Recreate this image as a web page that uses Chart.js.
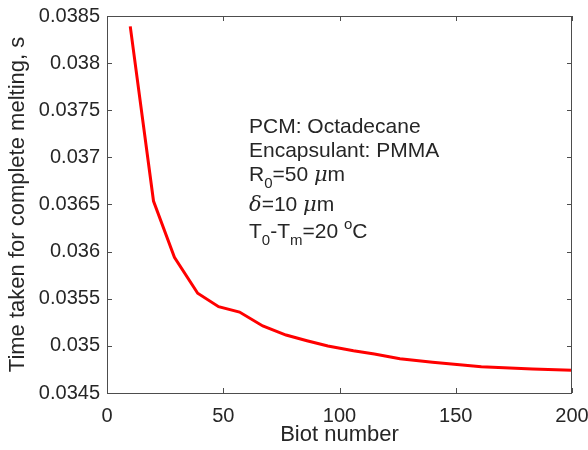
<!DOCTYPE html>
<html>
<head>
<meta charset="utf-8">
<script src="https://cdn.jsdelivr.net/npm/chart.js@4.4.1/dist/chart.umd.min.js"></script>
<style>
  html, body { margin: 0; padding: 0; background: #fff; }
  #wrap { width: 588px; height: 450px; }
</style>
</head>
<body>
<div id="wrap"><canvas id="chart" width="588" height="450"></canvas></div>
<script>
// Biot number vs melting time
const biot = [10, 20, 29, 39, 48, 57, 67, 77, 86, 95, 106, 115, 126, 140, 161, 183, 200];
const meltTime = [0.03839, 0.036537, 0.03594, 0.035558, 0.035416, 0.035359, 0.035211,
                  0.035115, 0.035055, 0.034999, 0.034949, 0.034914, 0.034864, 0.034826,
                  0.034779, 0.034755, 0.034741];

const xTicks = [0, 50, 100, 150, 200];
const yMin = 0.0345, yMax = 0.0385, yStep = 0.0005;

const txtColor = '#262626';
const fontFam = '"Liberation Sans", Arial, sans-serif';

// annotation lines: each part is [text, style]
const noteLines = [
  [['PCM: Octadecane', 'n']],
  [['Encapsulant: PMMA', 'n']],
  [['R', 'n'], ['0', 'sub'], ['=50 ', 'n'], ['\u03bc', 'it'], ['m', 'n']],
  [['\u03b4', 'it'], ['=10 ', 'n'], ['\u03bc', 'it'], ['m', 'n']],
  [['T', 'n'], ['0', 'sub'], ['-T', 'n'], ['m', 'sub'], ['=20 ', 'n'], ['o', 'sup'], ['C', 'n']]
];
const noteBaselines = [132.5, 156.5, 180.5, 210.5, 238];

const boxPlugin = {
  id: 'box',
  afterDraw(chart) {
    const {ctx, chartArea: a, scales} = chart;
    ctx.save();
    ctx.strokeStyle = '#4d4d4d';
    ctx.lineWidth = 1;
    ctx.strokeRect(a.left + 0.5, a.top + 0.5, a.right - a.left - 1, a.bottom - a.top);
    const tl = 5;
    ctx.beginPath();
    scales.x.ticks.forEach(t => {
      const px = Math.round(scales.x.getPixelForValue(t.value)) + 0.5;
      ctx.moveTo(px, a.bottom); ctx.lineTo(px, a.bottom - tl);
      ctx.moveTo(px, a.top); ctx.lineTo(px, a.top + tl);
    });
    scales.y.ticks.forEach(t => {
      const py = Math.round(scales.y.getPixelForValue(t.value)) + 0.5;
      ctx.moveTo(a.left, py); ctx.lineTo(a.left + tl, py);
      ctx.moveTo(a.right, py); ctx.lineTo(a.right - tl, py);
    });
    ctx.stroke();

    // text annotation
    ctx.fillStyle = txtColor;
    ctx.textBaseline = 'alphabetic';
    ctx.textAlign = 'left';
    const x0 = 249;
    noteLines.forEach((parts, i) => {
      let x = x0;
      const base = noteBaselines[i];
      parts.forEach(([s, st]) => {
        let y = base;
        if (st === 'sub') { ctx.font = '15px ' + fontFam; y = base + 7; }
        else if (st === 'sup') { ctx.font = '15px ' + fontFam; y = base - 9; }
        else if (st === 'it') { ctx.font = 'italic 21px "DejaVu Serif", "Liberation Serif", serif'; }
        else { ctx.font = '21px ' + fontFam; }
        ctx.fillText(s, x, y);
        x += ctx.measureText(s).width;
      });
    });
    ctx.restore();
  }
};

new Chart(document.getElementById('chart'), {
  type: 'line',
  data: {
    datasets: [{
      data: biot.map((b, i) => ({x: b, y: meltTime[i]})),
      borderColor: '#ff0000',
      borderWidth: 3,
      pointRadius: 0,
      fill: false,
      tension: 0
    }]
  },
  options: {
    responsive: false,
    animation: false,
    layout: { padding: { top: 16, right: 16, left: 0, bottom: 0 } },
    plugins: { legend: { display: false }, tooltip: { enabled: false } },
    scales: {
      x: {
        type: 'linear',
        min: 0, max: 200,
        afterBuildTicks: s => { s.ticks = xTicks.map(v => ({value: v})); },
        afterFit: s => { s.height = 450 - 393; s.paddingLeft = 0; s.paddingRight = 0; },
        grid: { display: false, drawTicks: false },
        border: { display: false },
        ticks: { color: txtColor, font: { family: fontFam, size: 20 }, padding: 11 },
        title: { display: true, text: 'Biot number', color: txtColor,
                 font: { family: fontFam, size: 22 }, padding: { bottom: 2 } }
      },
      y: {
        min: yMin, max: yMax,
        ticks: { stepSize: yStep, color: txtColor, font: { family: fontFam, size: 20 }, padding: 7,
                 callback: v => String(Number(v.toFixed(4))) },
        afterFit: s => { s.width = 107; s.paddingTop = 0; s.paddingBottom = 0; },
        grid: { display: false, drawTicks: false },
        border: { display: false },
        title: { display: true, text: 'Time taken for complete melting, s', color: txtColor,
                 font: { family: fontFam, size: 22 }, padding: { top: 5 } }
      }
    }
  },
  plugins: [boxPlugin]
});
</script>
</body>
</html>
